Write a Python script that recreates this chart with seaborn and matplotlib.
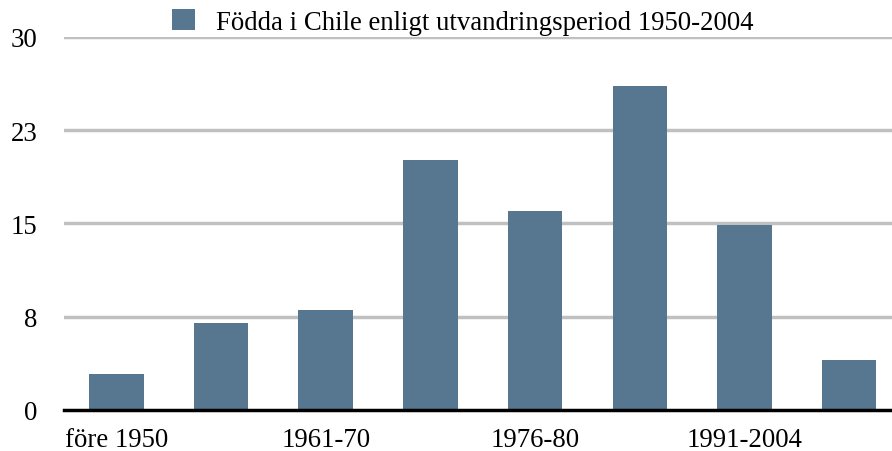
import numpy as np
import pandas as pd
import seaborn as sns
import matplotlib.pyplot as plt

# Data
perioder = ['före 1950', '1951-60', '1961-70', '1971-75', '1976-80', '1981-90', '1991-2004', 'okänd']
andel = [2.9, 7.0, 8.0, 20.1, 16.0, 26.0, 14.9, 4.0]
serie_namn = 'Födda i Chile enligt utvandringsperiod 1950-2004'
y_ticks = [0, 7.5, 15, 22.5, 30]
y_labels = ['0', '8', '15', '23', '30']

df = pd.DataFrame({'period': perioder, 'andel': andel})

sns.set_style('white')
plt.rcParams['font.family'] = ['Liberation Serif', 'DejaVu Serif']
plt.rcParams['text.color'] = 'black'

fig = plt.figure(figsize=(8.92, 4.52), dpi=100)
ax = fig.add_axes([64 / 892, 41 / 452, 1 - 64 / 892, 373.3 / 452])

# grid lines behind bars
for t in y_ticks[1:]:
    ax.axhline(t, color='#c0c0c0', lw=2.5, zorder=0)

sns.barplot(data=df, x='period', y='andel', color='#57768f', width=0.52,
            saturation=1, linewidth=0, label=serie_namn, ax=ax, zorder=2)

ax.set_ylim(0, 30)
ax.set_xlim(-0.5, 7.41)
ax.set_yticks(y_ticks)
ax.set_yticklabels(y_labels)
ax.set_xticks([0, 2, 4, 6])
ax.set_xticklabels([perioder[i] for i in [0, 2, 4, 6]])
ax.tick_params(axis='both', length=0, labelsize=19.3, colors='black')
ax.tick_params(axis='y', pad=19)
ax.tick_params(axis='x', pad=12)
ax.set_xlabel('')
ax.set_ylabel('')

for s in ['left', 'right', 'top']:
    ax.spines[s].set_visible(False)
ax.spines['bottom'].set_color('black')
ax.spines['bottom'].set_linewidth(2.5)
ax.spines['bottom'].set_zorder(3)

ax.legend(loc='center', bbox_to_anchor=(463 / 892, 1 - 23 / 452),
          bbox_transform=fig.transFigure, frameon=False, fontsize=19.3,
          labelcolor='black', handlelength=0.85, handleheight=0.85,
          handletextpad=0.8)

fig.savefig('out.png', dpi=100)
